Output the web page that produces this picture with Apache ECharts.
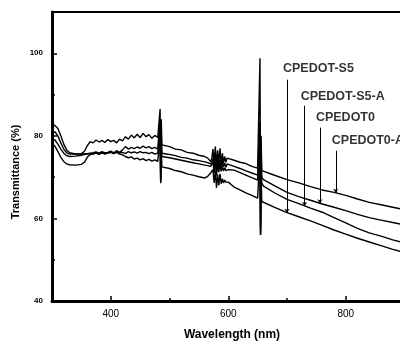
<!DOCTYPE html>
<html>
<head>
<meta charset="utf-8">
<script src="https://cdn.jsdelivr.net/npm/echarts@6/dist/echarts.min.js"></script>
<style>
  html, body { margin: 0; padding: 0; background: #fff; }
  #chart { width: 400px; height: 343px; }
</style>
</head>
<body>
<div id="chart"></div>
<script>
// wavelength grid (nm), shared by the four spectra
const wavelengths = [
  300, 305, 310, 315, 320, 325, 330, 340, 350, 355, 360, 365,
  370, 375, 380, 385, 390, 395, 400, 405, 410, 415, 420, 425, 430, 435, 440, 445,
  450, 455, 460, 465, 470, 475, 480, 483, 484, 485, 486, 487,
  490, 500, 510, 520, 530, 540, 550, 560, 565, 570,
  572, 574, 576, 578, 580, 582, 584, 586, 588, 590, 592, 594, 596, 598, 600,
  610, 620, 630, 640, 650, 653, 654, 655, 656, 657,
  660, 680, 700, 720, 740, 760, 780, 800, 820, 840, 860, 880, 900
];

// transmittance (%), top curve to bottom curve on the right
const cpedot0A = [
  82.7, 82.5, 81.8, 80.0, 78.0, 76.6, 75.9, 75.6, 75.7, 76.2, 77.6, 78.6,
  78.3, 79.0, 78.5, 78.9, 78.4, 79.1, 78.6, 78.9, 78.3, 79.2, 78.8, 79.8, 79.2, 80.2, 79.5, 80.4,
  79.6, 80.6, 79.8, 80.3, 79.4, 80.1, 79.6, 79.6, 86.5, 71.0, 84.0, 77.8,
  77.7, 77.4, 76.8, 76.6, 76.0, 75.8, 75.3, 75.0, 74.6, 73.8,
  74.5, 76.8, 73.2, 77.4, 72.8, 76.5, 73.5, 77.0, 73.0, 75.8, 73.4, 75.0, 73.6, 74.6, 74.2,
  74.1, 73.6, 73.3, 72.6, 72.2, 72.0, 98.8, 58.0, 80.0, 71.6,
  71.4, 70.4, 69.4, 68.6, 67.7, 66.9, 66.3, 65.6, 64.7, 63.9, 63.3, 62.7, 62.1
];
const cpedot0 = [
  80.5, 81.0, 80.0, 78.3, 76.8, 75.9, 75.6, 75.6, 75.6, 75.7, 75.7, 75.8,
  75.9, 76.1, 75.8, 76.2, 75.9, 76.0, 76.3, 75.9, 76.4, 76.0, 76.6, 77.4, 76.8, 77.2, 76.9, 77.3,
  77.0, 77.5, 77.1, 77.4, 76.9, 77.2, 76.8, 76.9, 84.0, 69.0, 80.5, 75.8,
  75.8, 75.5, 75.2, 74.8, 74.6, 74.2, 74.0, 73.7, 73.5, 73.2,
  73.0, 74.5, 72.0, 75.8, 71.5, 75.0, 72.2, 74.2, 72.0, 74.0, 72.5, 73.4, 72.4, 73.2, 73.0,
  72.6, 72.1, 71.5, 71.0, 70.5, 70.2, 83.5, 56.5, 76.0, 69.9,
  69.4, 67.8, 66.3, 65.3, 64.4, 63.5, 62.7, 61.9, 61.0, 60.2, 59.6, 59.0, 58.4
];
const cpedotS5A = [
  79.5, 79.0, 78.0, 76.8, 75.8, 75.2, 75.0, 75.1, 75.3, 75.5, 75.6, 75.7,
  75.7, 75.9, 75.6, 76.0, 75.7, 75.9, 76.1, 75.8, 76.2, 75.9, 76.0, 75.7, 76.2, 75.9, 76.1, 75.8,
  76.2, 75.9, 76.0, 75.7, 76.0, 75.6, 75.8, 75.8, 82.0, 68.5, 79.0, 75.0,
  75.0, 74.7, 74.4, 74.1, 73.8, 73.5, 73.2, 72.9, 72.8, 72.6,
  72.4, 73.6, 71.0, 74.0, 70.4, 73.0, 71.2, 73.2, 71.4, 72.6, 71.5, 72.3, 71.6, 72.0, 71.8,
  71.7, 71.1, 70.5, 69.9, 69.3, 69.0, 80.0, 56.0, 74.0, 68.6,
  67.8, 66.1, 64.6, 63.6, 62.5, 61.5, 60.2, 58.9, 57.6, 56.5, 55.7, 54.8, 54.1
];
const cpedotS5 = [
  78.2, 77.5, 76.2, 74.8, 73.8, 73.2, 73.0, 72.9, 73.1, 73.6, 74.8, 75.5,
  75.6, 75.8, 75.5, 75.9, 75.6, 75.8, 76.0, 75.7, 76.0, 75.6, 75.4, 75.0, 74.7, 74.9, 74.4, 74.6,
  74.2, 74.5, 74.0, 74.3, 73.9, 74.2, 73.8, 73.9, 80.0, 68.8, 77.0, 72.5,
  72.4, 72.1, 71.6, 71.3, 70.8, 70.5, 70.1, 69.8, 70.2, 71.0,
  70.8, 71.8, 68.6, 71.5, 67.4, 70.6, 68.0, 70.8, 68.4, 69.6, 68.6, 69.3, 68.8, 69.0, 68.8,
  67.6, 66.9, 66.2, 65.6, 64.9, 64.6, 76.0, 56.0, 70.0, 64.1,
  63.9, 62.6, 61.4, 60.4, 59.4, 58.3, 57.2, 56.2, 55.2, 54.3, 53.4, 52.5, 51.8
];

const xTicks = [400, 600, 800];
const xMinorTicks = [500, 700];
const yTicks = [40, 60, 80, 100];
const yMinorTicks = [50, 70, 90];

// pointer labels: name, wavelength of the pointer, label height, pointer top and tip
const annotNames = ['CPEDOT-S5', 'CPEDOT-S5-A', 'CPEDOT0', 'CPEDOT0-A'];
const annotWl = [700, 730, 756, 783];
const annotLabelY = [96.2, 89.5, 84.4, 78.8];
const annotTop = [93.6, 87.3, 82.0, 76.4];
const annotTip = [61.4, 63.0, 63.7, 66.2];

const spectra = [cpedot0A, cpedot0, cpedotS5A, cpedotS5];

const chart = echarts.init(document.getElementById('chart'));

const lineSeries = spectra.map(function (vals, k) {
  return {
    type: 'line',
    name: 's' + k,
    xAxisIndex: 0,
    yAxisIndex: 0,
    data: wavelengths.map(function (w, i) { return [w, vals[i]]; }),
    showSymbol: false,
    symbol: 'none',
    lineStyle: { color: '#000', width: 1.4 },
    z: 3
  };
});

const option = {
  animation: false,
  backgroundColor: '#fff',
  grid: {
    left: 52, top: 12, right: -4.5, bottom: 42,
    containLabel: false,
    outerBoundsMode: 'none',
    show: true,
    borderColor: '#000',
    borderWidth: 2
  },
  xAxis: [
    {
      type: 'value', min: 300, max: 900,
      axisLine: { show: true, lineStyle: { color: '#000', width: 3 } },
      axisTick: { show: true, inside: true, length: 5, customValues: xTicks, lineStyle: { color: '#000', width: 1.5 } },
      axisLabel: { show: true, customValues: xTicks, margin: 8, color: '#000', fontSize: 10, fontFamily: 'Liberation Sans' },
      splitLine: { show: false }
    },
    {
      type: 'value', min: 300, max: 900, position: 'bottom',
      axisLine: { show: false },
      axisTick: { show: true, inside: true, length: 3, customValues: xMinorTicks, lineStyle: { color: '#000', width: 1.5 } },
      axisLabel: { show: false },
      splitLine: { show: false }
    }
  ],
  yAxis: [
    {
      type: 'value', min: 40, max: 110,
      axisLine: { show: true, lineStyle: { color: '#000', width: 3 } },
      axisTick: { show: true, inside: true, length: 5, customValues: yTicks, lineStyle: { color: '#000', width: 1.5 } },
      axisLabel: { show: true, customValues: yTicks, margin: 9, color: '#000', fontSize: 8, fontWeight: 'bold', fontFamily: 'Liberation Sans' },
      splitLine: { show: false }
    },
    {
      type: 'value', min: 40, max: 110, position: 'left',
      axisLine: { show: false },
      axisTick: { show: true, inside: true, length: 3, customValues: yMinorTicks, lineStyle: { color: '#000', width: 1.5 } },
      axisLabel: { show: false },
      splitLine: { show: false }
    }
  ],
  graphic: [
    {
      type: 'text', x: 16, y: 172, rotation: Math.PI / 2,
      style: { text: 'Transmittance (%)', fill: '#000', font: 'bold 11px "Liberation Sans"', align: 'center', verticalAlign: 'middle' }
    },
    {
      type: 'text', x: 232, y: 335,
      style: { text: 'Wavelength (nm)', fill: '#000', font: 'bold 12px "Liberation Sans"', align: 'center', verticalAlign: 'middle' }
    }
  ],
  series: lineSeries.concat([
    {
      type: 'lines',
      coordinateSystem: 'cartesian2d',
      symbol: ['none', 'arrow'],
      symbolSize: 4,
      lineStyle: { color: '#000', width: 1, curveness: 0, opacity: 1 },
      data: annotNames.map(function (n, i) {
        return { coords: [[annotWl[i], annotTop[i]], [annotWl[i], annotTip[i]]] };
      }),
      z: 4
    },
    {
      type: 'scatter',
      symbolSize: 0,
      data: annotNames.map(function (n, i) {
        return { name: n, value: [annotWl[i], annotLabelY[i]] };
      }),
      label: {
        show: true, position: 'right', distance: -4, formatter: '{b}',
        color: '#000', fontSize: 12.5, fontWeight: 'bold', fontFamily: 'Liberation Sans'
      },
      z: 5
    }
  ])
};

chart.setOption(option);
</script>
</body>
</html>
